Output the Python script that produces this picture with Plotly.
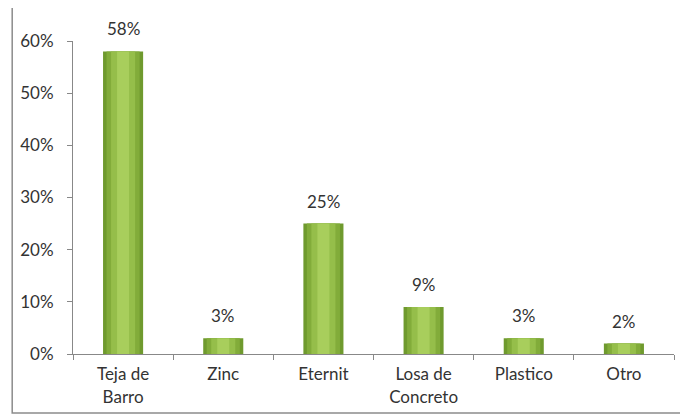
import plotly.graph_objects as go

categories = ["Teja de<br>Barro", "Zinc", "Eternit", "Losa de<br>Concreto", "Plastico", "Otro"]
values = [58, 3, 25, 9, 3, 2]
value_labels = ["58%", "3%", "25%", "9%", "3%", "2%"]
y_tick_values = [0, 10, 20, 30, 40, 50, 60]
y_tick_labels = ["0%", "10%", "20%", "30%", "40%", "50%", "60%"]

FONT = "Lato, 'Open Sans', sans-serif"
fig = go.Figure()

# layered bars to imitate the cylindrical gradient
layers = [(0.40, "#6F9A2E"), (0.33, "#82AC3A"), (0.24, "#95BE4A"), (0.12, "#A8CE5C")]
for w, c in layers:
    fig.add_trace(go.Bar(x=categories, y=values, width=w, marker=dict(color=c, line=dict(width=0)),
                         hoverinfo="skip", showlegend=False))

for cat, v, lab in zip(categories, values, value_labels):
    fig.add_annotation(x=cat, y=v, text=lab, showarrow=False, yanchor="bottom", yshift=10,
                       font=dict(family=FONT, size=17, color="#333333"))

# page body has an 8px margin, so the figure sits at (8, 8) in the window
fig.update_layout(
    width=688, height=417, barmode="overlay",
    margin=dict(l=63, r=22, t=33, b=71),
    paper_bgcolor="white", plot_bgcolor="white",
    font=dict(family=FONT, size=17, color="#333333"),
    xaxis=dict(type="category", showline=True, linecolor="#888888", linewidth=1,
               ticks="outside", tickson="boundaries", ticklen=5, tickcolor="#888888",
               showgrid=False, ticklabelstandoff=5),
    yaxis=dict(range=[0, 60], tickvals=y_tick_values, ticktext=y_tick_labels,
               showline=True, linecolor="#888888", linewidth=1,
               ticks="outside", ticklen=5, tickcolor="#888888", showgrid=False,
               zeroline=False, ticklabelstandoff=10),
)

# chart frame
fig.add_shape(type="rect", xref="paper", yref="paper",
              x0=(2 - 63) / 603, x1=(700 - 63) / 603,
              y0=(346 - 405) / 313, y1=(346 + 3) / 313,
              line=dict(color="#8C8C8C", width=1.5), layer="below")

fig.write_html("out.html")
